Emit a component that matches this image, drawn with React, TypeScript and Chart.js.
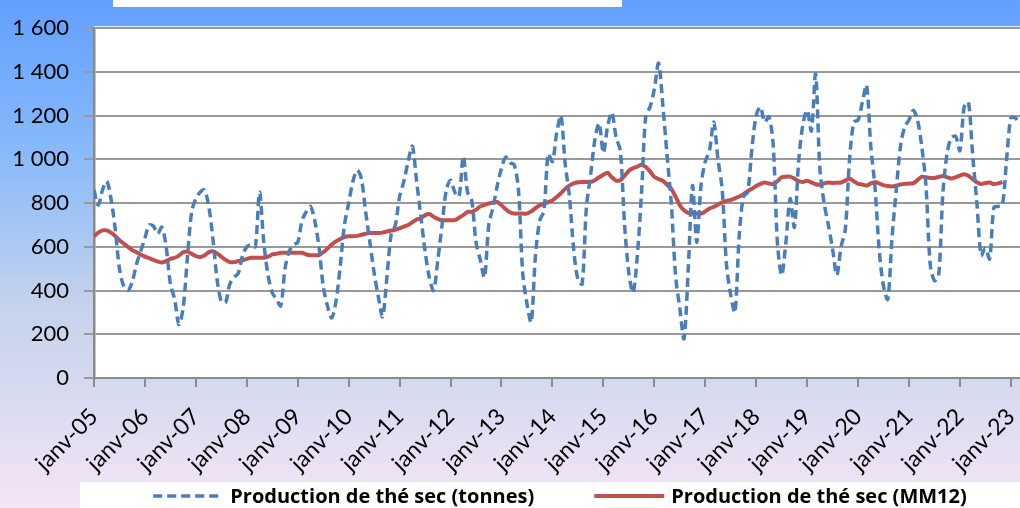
import React, { useEffect, useRef } from 'react';
import { Chart, registerables } from 'chart.js';

Chart.register(...registerables);

// Tick labels (one per January, month index = i * 12)
const yearLabels = [
  'janv-05', 'janv-06', 'janv-07', 'janv-08', 'janv-09', 'janv-10', 'janv-11',
  'janv-12', 'janv-13', 'janv-14', 'janv-15', 'janv-16', 'janv-17', 'janv-18',
  'janv-19', 'janv-20', 'janv-21', 'janv-22', 'janv-23',
];
const yTickValues = [0, 200, 400, 600, 800, 1000, 1200, 1400, 1600];
const yTickLabels = ['0', '200', '400', '600', '800', '1 000', '1 200', '1 400', '1 600'];

const seriesLabels = ['Production de thé sec (tonnes)', 'Production de thé sec (MM12)'];

// Monthly production, janv-05 ... mars-23 (tonnes)
const productionValues = [
  860, 790, 860, 900, 820, 680, 500, 420, 400, 440, 520, 580,
  640, 700, 695, 660, 690, 600, 430, 360, 245, 320, 550, 760,
  820, 850, 860, 790, 640, 450, 350, 345, 430, 460, 480, 560,
  600, 610, 600, 850, 620, 470, 390, 360, 330, 500, 580, 610,
  620, 720, 760, 785, 720, 600, 420, 330, 275, 350, 510, 700,
  800, 900, 950, 910, 760, 620, 480, 370, 280, 460, 655, 700,
  830, 900, 990, 1060, 900, 740, 580, 460, 400, 540, 700, 860,
  905, 850, 830, 1015, 850, 810, 620, 540, 460, 700, 780, 880,
  960, 1010, 985, 975, 860, 480, 340, 255, 560, 720, 765, 1025,
  990, 1120, 1200, 980, 830, 590, 450, 430, 780, 930, 1090, 1165,
  1030, 1150, 1215, 1100, 1040, 700, 480, 390, 560, 850, 1200, 1240,
  1320, 1440, 1250, 1020, 800, 470, 320, 180, 500, 880, 620, 880,
  990, 1040, 1170, 1000, 860, 520, 380, 300, 650, 830, 850, 1050,
  1200, 1240, 1170, 1195, 1070, 620, 470, 620, 820, 690, 990, 1160,
  1225, 1130, 1390, 960, 800, 700, 590, 470, 600, 680, 1000, 1170,
  1180, 1260, 1340, 1060, 870, 580, 420, 360, 640, 860, 1060, 1150,
  1180, 1225, 1180, 1060, 880, 520, 445, 470, 850, 1030, 1100, 1105,
  1040, 1240, 1262, 1020, 800, 560, 595, 545, 780, 785, 790, 1000,
  1190, 1190, 1165,
];

// 12-month moving average
const mm12Values = [
  648, 665, 675, 675, 665, 650, 630, 615, 600, 585, 575, 565,
  555, 548, 540, 533, 528, 535, 545, 550, 560, 575, 578, 568,
  558, 553, 560, 575, 580, 570, 555, 540, 530, 530, 535, 538,
  545, 550, 550, 550, 550, 555, 565, 568, 573, 573, 573, 573,
  573, 573, 565, 562, 562, 562, 575, 592, 610, 625, 636, 645,
  648, 648, 650, 655, 660, 663, 663, 663, 665, 670, 675, 678,
  685, 692, 700, 712, 725, 730, 745, 750, 738, 728, 722, 722,
  722, 722, 733, 745, 760, 760, 770, 785, 792, 798, 803, 805,
  790, 772, 758, 752, 752, 752, 752, 762, 777, 790, 797, 804,
  812, 828, 845, 865, 880, 890, 895, 897, 897, 897, 905, 918,
  930, 939, 918, 903, 905, 925, 948, 960, 967, 975, 965, 945,
  920, 910, 902, 885, 865, 830, 790, 767, 755, 752, 752, 752,
  762, 775, 783, 793, 803, 810, 815, 822, 830, 840, 855, 866,
  878, 888, 894, 890, 887, 900, 918, 921, 921, 912, 900, 897,
  902, 895, 886, 884, 890, 894, 892, 893, 894, 903, 912, 900,
  888, 885, 880, 890, 897, 890, 882, 878, 876, 880, 885, 888,
  890, 890, 905, 921, 918, 915, 915, 920, 924, 918, 912, 918,
  926, 932, 925, 910, 895, 887, 892, 894, 887, 890, 897,
];

const toPoints = (values: number[]) => values.map((v, i) => ({ x: i, y: v }));

const CANVAS_W = 1120;
const CANVAS_H = 508;
const X_MAX = 237;

const backgroundPlugin = {
  id: 'bgPlugin',
  beforeDraw(chart: any) {
    const { ctx, width, height, chartArea } = chart;
    ctx.save();
    const g = ctx.createLinearGradient(0, 0, 0, height);
    g.addColorStop(0, '#62A0FF');
    g.addColorStop(0.3, '#88BAFA');
    g.addColorStop(0.59, '#C3D2EC');
    g.addColorStop(0.77, '#D7DAEF');
    g.addColorStop(1, '#F5E5F5');
    ctx.fillStyle = g;
    ctx.fillRect(0, 0, width, height);
    ctx.fillStyle = '#FFFFFF';
    ctx.fillRect(113, 0, 509, 7);
    ctx.fillRect(chartArea.left, chartArea.top - 2, chartArea.right - chartArea.left, chartArea.bottom - chartArea.top + 2);
    ctx.restore();
  },
};

const legendPlugin = {
  id: 'customLegend',
  afterDraw(chart: any) {
    const { ctx, width } = chart;
    ctx.save();
    ctx.fillStyle = '#FFFFFF';
    ctx.fillRect(80, 482, width - 160, 30);
    ctx.font = 'bold 20px "Open Sans"';
    ctx.textBaseline = 'middle';
    const sample = 70;
    const gapText = 7;
    const gapItem = 60;
    const ds = chart.data.datasets;
    const widths = ds.map((d: any) => sample + gapText + ctx.measureText(d.label).width);
    const total = widths.reduce((a: number, b: number) => a + b, 0) + gapItem * (ds.length - 1);
    let x = width / 2 - total / 2;
    const y = 496;
    ds.forEach((d: any, i: number) => {
      ctx.strokeStyle = d.borderColor;
      ctx.lineWidth = d.borderWidth;
      ctx.lineCap = 'butt';
      ctx.setLineDash(d.borderDash || []);
      ctx.beginPath();
      ctx.moveTo(x, y);
      ctx.lineTo(x + sample, y);
      ctx.stroke();
      ctx.setLineDash([]);
      ctx.fillStyle = '#000000';
      ctx.fillText(d.label, x + sample + gapText, y + 1);
      x += widths[i] + gapItem;
    });
    ctx.restore();
  },
};

export default function App() {
  const canvasRef = useRef<HTMLCanvasElement | null>(null);

  useEffect(() => {
    if (!canvasRef.current) return;
    const chart = new Chart(canvasRef.current, {
      type: 'line',
      data: {
        datasets: [
          {
            label: seriesLabels[0],
            data: toPoints(productionValues),
            borderColor: '#4A7EBB',
            borderWidth: 3.5,
            borderDash: [9, 5],
            pointRadius: 0,
            tension: 0.3,
            fill: false,
          },
          {
            label: seriesLabels[1],
            data: toPoints(mm12Values),
            borderColor: '#C0504D',
            borderWidth: 4,
            pointRadius: 0,
            tension: 0.2,
            fill: false,
          },
        ],
      },
      options: {
        responsive: false,
        animation: false,
        layout: { padding: { left: 0, top: 22, right: CANVAS_W - 1100, bottom: 0 } },
        plugins: {
          legend: { display: false },
          tooltip: { enabled: false },
          title: { display: false },
        },
        scales: {
          x: {
            type: 'linear',
            min: 0,
            max: X_MAX,
            afterFit(scale: any) {
              scale.height = 130;
            },
            afterBuildTicks(scale: any) {
              scale.ticks = yearLabels.map((_, i) => ({ value: i * 12 }));
            },
            ticks: {
              autoSkip: false,
              minRotation: 45,
              maxRotation: 45,
              padding: 16,
              color: '#000000',
              font: { family: 'Lato', size: 23 },
              callback: (v: any) => yearLabels[Math.round(Number(v) / 12)] ?? '',
            },
            grid: {
              display: true,
              drawOnChartArea: false,
              drawTicks: true,
              tickLength: 9,
              color: '#8C8C8C',
              lineWidth: 2,
            },
            border: { display: true, color: '#8C8C8C', width: 2 },
          },
          y: {
            min: 0,
            max: 1600,
            afterFit(scale: any) {
              scale.width = 94;
            },
            afterBuildTicks(scale: any) {
              scale.ticks = yTickValues.map((v) => ({ value: v }));
            },
            ticks: {
              padding: 15,
              color: '#000000',
              font: { family: 'Lato', size: 22 },
              callback: (v: any) => yTickLabels[yTickValues.indexOf(Number(v))] ?? '',
            },
            grid: {
              color: '#999999',
              lineWidth: 2,
              drawTicks: true,
              tickLength: 10,
            },
            border: { display: true, color: '#8A8A8A', width: 2.5 },
          },
        },
      },
      plugins: [backgroundPlugin, legendPlugin],
    });
    return () => chart.destroy();
  }, []);

  return (
    <div style={{ position: 'fixed', left: 0, top: 0, width: 1020, height: 508, overflow: 'hidden' }}>
      <canvas ref={canvasRef} width={CANVAS_W} height={CANVAS_H} style={{ display: 'block' }} />
    </div>
  );
}
